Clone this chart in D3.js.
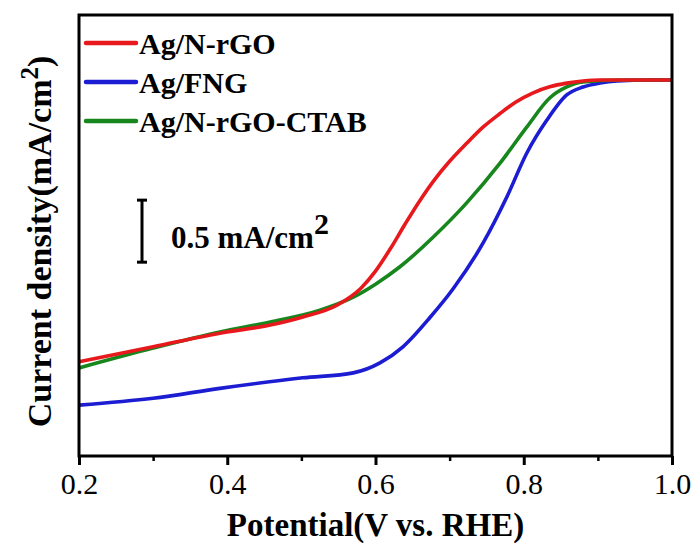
<!DOCTYPE html>
<html>
<head>
<meta charset="utf-8">
<script src="https://cdn.jsdelivr.net/npm/d3@7"></script>
<style>
  html, body { margin: 0; padding: 0; background: #fff; }
  svg { display: block; }
  text { font-family: "Liberation Serif", "Times New Roman", serif; fill: #000; }
</style>
</head>
<body>
<svg id="chart" width="697" height="545"></svg>
<script>
// LSV curves, potential (V vs. RHE) vs current density (mA/cm2)
const rgoV  = [0.20, 0.30, 0.39, 0.458, 0.502, 0.548, 0.58, 0.60, 0.62, 0.64, 0.66, 0.68, 0.70, 0.723, 0.745, 0.768, 0.79, 0.812, 0.835, 0.858, 0.88, 0.903, 1.00];
const rgoJ  = [-2.27, -2.15, -2.04, -1.975, -1.91, -1.815, -1.68, -1.54, -1.36, -1.16, -0.97, -0.80, -0.655, -0.51, -0.38, -0.27, -0.175, -0.105, -0.055, -0.025, -0.008, 0, 0];

const fngV  = [0.20, 0.30, 0.39, 0.502, 0.57, 0.606, 0.637, 0.674, 0.705, 0.745, 0.777, 0.804, 0.831, 0.858, 0.88, 0.903, 0.926, 0.97, 1.00];
const fngJ  = [-2.62, -2.565, -2.485, -2.40, -2.36, -2.28, -2.15, -1.91, -1.68, -1.315, -0.945, -0.59, -0.325, -0.12, -0.056, -0.024, -0.008, 0, 0];

const ctabV = [0.20, 0.30, 0.39, 0.458, 0.525, 0.57, 0.60, 0.633, 0.678, 0.723, 0.768, 0.804, 0.835, 0.858, 0.88, 0.93, 1.00];
const ctabJ = [-2.32, -2.16, -2.03, -1.95, -1.855, -1.75, -1.645, -1.505, -1.265, -0.99, -0.67, -0.38, -0.145, -0.056, -0.016, 0, 0];

const seriesNames  = ["Ag/N-rGO", "Ag/FNG", "Ag/N-rGO-CTAB"];
const seriesColors = ["#e8191c", "#1c1cd2", "#17861c"];
const xTicks = [0.2, 0.4, 0.6, 0.8, 1.0];
const xMinor = [0.3, 0.5, 0.7, 0.9];
const scaleBarTop = -0.968, scaleBarLen = 0.5;

const series = [
  { name: seriesNames[0], color: seriesColors[0], v: rgoV,  j: rgoJ },
  { name: seriesNames[1], color: seriesColors[1], v: fngV,  j: fngJ },
  { name: seriesNames[2], color: seriesColors[2], v: ctabV, j: ctabJ },
];

const svg = d3.select("#chart");
const m = { left: 79, right: 672, top: 15, bottom: 456 };

const x = d3.scaleLinear().domain([0.2, 1.0]).range([m.left, m.right]);
const y = d3.scaleLinear().domain([-3.03, 0.524]).range([m.bottom, m.top]);

const line = d3.line().x((d) => x(d[0])).y((d) => y(d[1])).curve(d3.curveMonotoneX);

// curves (draw red last, it sits on top in the figure)
const order = [1, 2, 0];
svg.append("g").selectAll("path").data(order.map((i) => series[i])).join("path")
  .attr("d", (s) => line(s.v.map((v, i) => [v, s.j[i]])))
  .attr("fill", "none")
  .attr("stroke", (s) => s.color)
  .attr("stroke-width", 3.6)
  .attr("stroke-linejoin", "round");

// frame
svg.append("rect")
  .attr("x", m.left).attr("y", m.top)
  .attr("width", m.right - m.left).attr("height", m.bottom - m.top)
  .attr("fill", "none").attr("stroke", "#000").attr("stroke-width", 3);

// x axis: major + minor ticks
const gx = svg.append("g").attr("transform", `translate(0,${m.bottom})`);
gx.call(d3.axisBottom(x).tickValues(xTicks).tickSize(9).tickPadding(8).tickFormat(d3.format(".1f")))
  .call((g) => g.select(".domain").remove())
  .call((g) => g.selectAll(".tick line").attr("stroke-width", 3))
  .call((g) => g.selectAll(".tick text")
    .attr("font-family", "Liberation Serif").attr("font-size", 30).attr("fill", "#000"));
svg.append("g").attr("transform", `translate(0,${m.bottom})`)
  .call(d3.axisBottom(x).tickValues(xMinor).tickSize(5).tickFormat(""))
  .call((g) => g.select(".domain").remove())
  .call((g) => g.selectAll(".tick line").attr("stroke-width", 2.5));

// axis titles
svg.append("text")
  .attr("x", (m.left + m.right) / 2).attr("y", 536)
  .attr("text-anchor", "middle").attr("font-weight", "bold").attr("font-size", 33)
  .text("Potential(V vs. RHE)");

const yt = svg.append("text")
  .attr("transform", `translate(51,${(m.top + m.bottom) / 2 + 6}) rotate(-90)`)
  .attr("text-anchor", "middle").attr("font-weight", "bold").attr("font-size", 34);
yt.append("tspan").text("Current density(mA/cm");
yt.append("tspan").attr("font-size", 25).attr("dy", -13).text("2");
yt.append("tspan").attr("dy", 13).text(")");

// legend
const lg = svg.append("g").selectAll("g").data(series).join("g")
  .attr("transform", (d, i) => `translate(0,${43 + i * 39})`);
lg.append("line")
  .attr("x1", 86).attr("x2", 136).attr("y1", 0).attr("y2", 0)
  .attr("stroke", (d) => d.color).attr("stroke-width", 4.5).attr("stroke-linecap", "round");
lg.append("text")
  .attr("x", 139).attr("y", 11)
  .attr("font-weight", "bold").attr("font-size", 30)
  .text((d) => d.name);

// scale bar: 0.5 mA/cm2
const sbX = 142;
const sb = svg.append("g").attr("stroke", "#000").attr("stroke-width", 3);
sb.append("line").attr("x1", sbX).attr("x2", sbX)
  .attr("y1", y(scaleBarTop)).attr("y2", y(scaleBarTop - scaleBarLen));
sb.append("line").attr("x1", sbX - 5).attr("x2", sbX + 5)
  .attr("y1", y(scaleBarTop)).attr("y2", y(scaleBarTop));
sb.append("line").attr("x1", sbX - 5).attr("x2", sbX + 5)
  .attr("y1", y(scaleBarTop - scaleBarLen)).attr("y2", y(scaleBarTop - scaleBarLen));
const st = svg.append("text")
  .attr("x", 171).attr("y", 248)
  .attr("font-weight", "bold").attr("font-size", 31);
st.append("tspan").text("0.5 mA/cm");
st.append("tspan").attr("font-size", 30).attr("dy", -14).text("2");
</script>
</body>
</html>
